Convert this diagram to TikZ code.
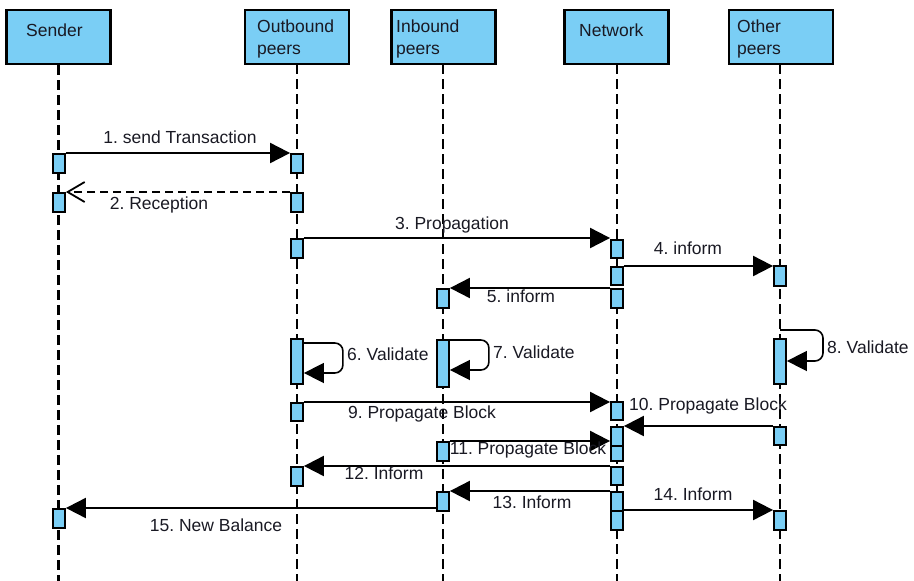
\documentclass[tikz,border=0pt]{standalone}
\usepackage{fontspec}
\setmainfont{Liberation Sans}
\usetikzlibrary{arrows.meta,calc}
\definecolor{actblue}{RGB}{122,206,245}
\definecolor{txt}{RGB}{25,25,35}
\frenchspacing
\begin{document}
\begin{tikzpicture}[x=1pt,y=-1pt,
  head/.style={draw=black, line width=2.2pt, fill=actblue, inner sep=0pt, minimum width=104pt, minimum height=54pt},
  lifeline/.style={line width=2.2pt, dash pattern=on 10pt off 5pt},
  act/.style={draw=black, line width=1.8pt, fill=actblue, minimum width=12pt, inner sep=0pt, anchor=north},
  msg/.style={line width=2pt, -{Triangle[length=20pt,width=20pt]}},
  ret/.style={line width=2pt, dash pattern=on 8pt off 5pt, -{Straight Barb[length=17pt,width=20pt,line width=1.8pt]}},
  selfloop/.style={line width=1.6pt, rounded corners=8pt, -{Triangle[length=20pt,width=20pt]}},
  lbl/.style={font=\fontsize{17.5}{21}\selectfont, text=txt, inner sep=0pt},
]
\useasboundingbox (0,0) rectangle (914,581);
\coordinate (bottom) at (0,581);

% headers
\node[head] (sender) at (58.5,37) {};
\node[head] (outb) at (297,37) {};
\node[head] (inb) at (443.5,37) {};
\node[head] (net) at (616.5,37) {};
\node[head] (oth) at (781,37) {};
\node[lbl, anchor=base west] (tsender) at (26,36) {Sender};
\node[lbl, anchor=base west] (toutb1) at (257,32) {Outbound};
\node[lbl, anchor=base west] (toutb2) at (257,54) {peers};
\node[lbl, anchor=base west] (tinb1) at (396,32) {Inbound};
\node[lbl, anchor=base west] (tinb2) at (396,54) {peers};
\node[lbl, anchor=base west] (tnet) at (579,36) {Network};
\node[lbl, anchor=base west] (toth1) at (737,32) {Other};
\node[lbl, anchor=base west] (toth2) at (737,54) {peers};

% lifelines
\draw[lifeline] (sender.south) -- (sender.south |- bottom);
\draw[lifeline] (297,64) coordinate (lo) -- (lo |- bottom);
\draw[lifeline] (443,64) coordinate (li) -- (li |- bottom);
\draw[lifeline] (617,64) coordinate (ln) -- (ln |- bottom);
\draw[lifeline] (780,64) coordinate (lt) -- (lt |- bottom);

% activation boxes
\node[act, minimum height=19pt] (a1s) at (59,153) {};
\node[act, minimum height=19pt] (a2s) at (59,192) {};
\node[act, minimum height=19pt] (a15s) at (59,508) {};

\node[act, minimum height=19pt] (a1o) at (297,153) {};
\node[act, minimum height=19pt] (a2o) at (297,192) {};
\node[act, minimum height=19pt] (a3o) at (297,238) {};
\node[act, minimum height=45pt] (a6o) at (297,338) {};
\node[act, minimum height=18pt] (a9o) at (297,402) {};
\node[act, minimum height=19pt] (a12o) at (297,466) {};

\node[act, minimum height=19pt] (a5i) at (443,288) {};
\node[act, minimum height=47pt] (a7i) at (443,339) {};
\node[act, minimum height=19pt] (a11i) at (443,441) {};
\node[act, minimum height=19pt] (a13i) at (443,491) {};

\node[act, minimum height=18pt] (a3n) at (617,239) {};
\node[act, minimum height=18pt] (a4n) at (617,266) {};
\node[act, minimum height=19pt] (a5n) at (617,288) {};
\node[act, minimum height=18pt] (a9n) at (617,401) {};
\node[act, minimum height=19pt] (a10n) at (617,426) {};
\node[act, minimum height=15pt] (a11n) at (617,445) {};
\node[act, minimum height=18pt] (a12n) at (617,466) {};
\node[act, minimum height=19pt] (a13n) at (617,491) {};
\node[act, minimum height=19pt] (a14n) at (617,510) {};

\node[act, minimum height=20pt] (a4t) at (780,265) {};
\node[act, minimum height=45pt] (a8t) at (780,338) {};
\node[act, minimum height=18pt] (a10t) at (780,426) {};
\node[act, minimum height=19pt] (a14t) at (780,510) {};

% messages
\draw[msg] (a1s.north east) -- (a1o.north west);
\draw[ret] (a2o.north west) -- (a2s.north east);
\draw[msg] (a3o.north east) -- (a3n.west |- a3o.north);
\draw[msg] (a4n.north east) -- (a4t.west |- a4n.north);
\draw[msg] (a5n.north west) -- (a5i.north east);
\draw[selfloop] ($(a6o.north east)+(0,5)$) -- ++(39,0) -- ++(0,30) -- ($(a6o.north east)+(0,35)$);
\draw[selfloop] ($(a7i.north east)+(0,1)$) -- ++(39,0) -- ++(0,30) -- ($(a7i.north east)+(0,31)$);
\draw[selfloop] ($(a8t.north)+(0,-8)$) -- ++(43,0) -- ++(0,31) -- ($(a8t.north east)+(0,23)$);
\draw[msg] (a9o.north east) -- (a9n.west |- a9o.north);
\draw[msg] (a10t.north west) -- (a10n.north east);
\draw[msg] (a11i.north east) -- (a10n.west |- a11i.north);
\draw[msg] (a12n.north west) -- (a12o.north east);
\draw[msg] (a13n.north west) -- (a13i.north east);
\draw[msg] (a14n.north east) -- (a14t.north west);
\draw[msg] (a13i.west |- a15s.north) -- (a15s.north east);

% labels
\node[lbl] (l1) at (180,137) {1. send Transaction};
\node[lbl] (l2) at (159,205) {2. Reception};
\node[lbl] (l3) at (452,225) {3. Propagation};
\node[lbl] (l4) at (688,248) {4. inform};
\node[lbl] (l5) at (521,296) {5. inform};
\node[lbl, anchor=west] (l6) at (347,354) {6. Validate};
\node[lbl, anchor=west] (l7) at (493,352) {7. Validate};
\node[lbl, anchor=west] (l8) at (827,347) {8. Validate};
\node[lbl] (l9) at (422,414) {9. Propagate Block};
\node[lbl] (l10) at (708,406) {10. Propagate Block};
\node[lbl] (l11) at (528,450) {11. Propagate Block};
\node[lbl] (l12) at (384,473) {12. Inform};
\node[lbl] (l13) at (532,502) {13. Inform};
\node[lbl] (l14) at (693,494) {14. Inform};
\node[lbl] (l15) at (216,525) {15. New Balance};
\end{tikzpicture}
\end{document}
